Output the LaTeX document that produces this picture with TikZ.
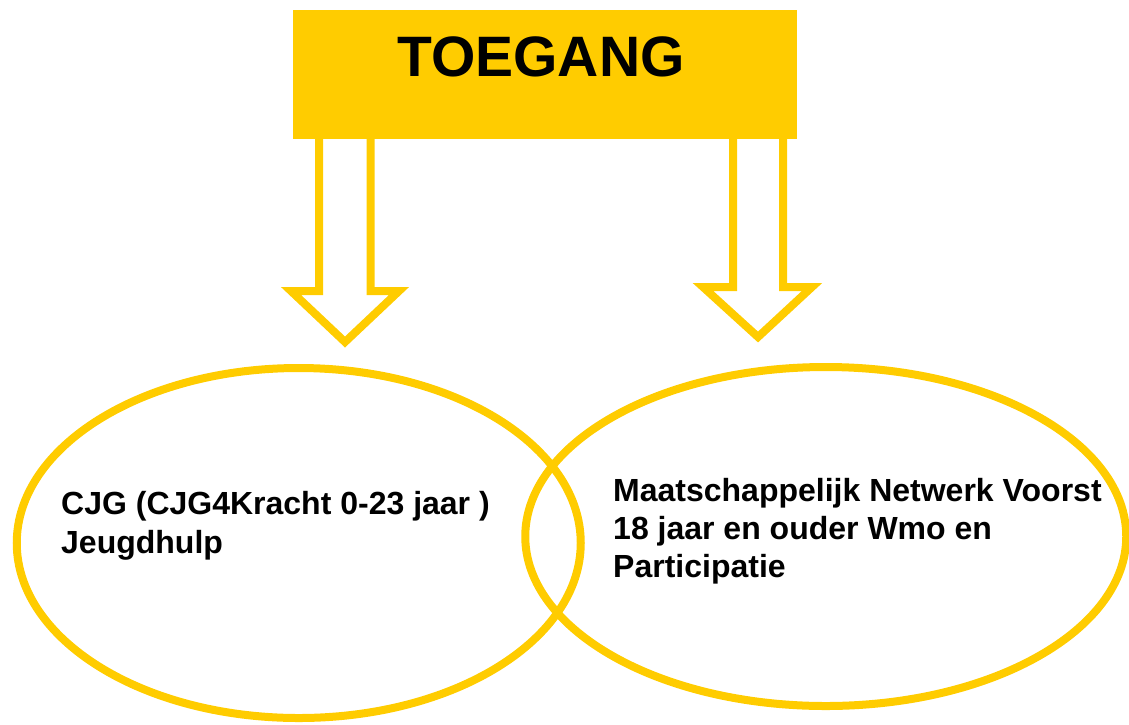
\documentclass[tikz,border=0pt]{standalone}
\usepackage{fontspec}
\setmainfont{Liberation Sans}
\usetikzlibrary{shapes.geometric}
\definecolor{tgyellow}{HTML}{FFCC00}
\begin{document}
\begin{tikzpicture}[x=1pt,y=-1pt,
  box/.style={fill=tgyellow, draw=none, minimum width=504pt, minimum height=129pt, inner sep=0pt, outer sep=0pt},
  blockarrow/.style={draw=tgyellow, line width=8pt, miter limit=10},
  oval/.style={ellipse, draw=tgyellow, line width=8pt, inner sep=0pt, outer sep=0pt},
  titletext/.style={font=\fontsize{57}{60}\selectfont\bfseries, inner sep=0pt, anchor=base},
  ovaltext/.style={inner sep=0pt, anchor=base west, align=left}]
\useasboundingbox (0,0) rectangle (1129,724);
% box
\node[box] (toegang) at (545,74.5) {};
\node[titletext] (title) at (541,76) {TOEGANG};
% block arrows
\coordinate (la1) at (319,139);
\coordinate (la2) at (370.5,139);
\coordinate (ra1) at (733,139);
\coordinate (ra2) at (783,139);
\draw[blockarrow] (la1) -- (319,291) -- (291,291) -- (345,342) -- (399,291) -- (370.5,291) -- (la2);
\draw[blockarrow] (ra1) -- (733,287) -- (703,287) -- (758,337) -- (812,287) -- (783,287) -- (ra2);
% ellipses
\node[oval, minimum width=564pt, minimum height=350pt] (cjg) at (298.75,543) {};
\node[oval, minimum width=601pt, minimum height=339pt] (mnv) at (825.75,536.5) {};
% texts (anchor = baseline of the last line)
\node[ovaltext, font=\fontsize{32}{39}\selectfont\bfseries] (cjgtext) at (61,553)
  {CJG (CJG4Kracht 0-23 jaar )\\Jeugdhulp};
\node[ovaltext, font=\fontsize{32}{38}\selectfont\bfseries] (mnvtext) at (613,577)
  {Maatschappelijk Netwerk Voorst\\18 jaar en ouder Wmo en\\Participatie};
\end{tikzpicture}
\end{document}
